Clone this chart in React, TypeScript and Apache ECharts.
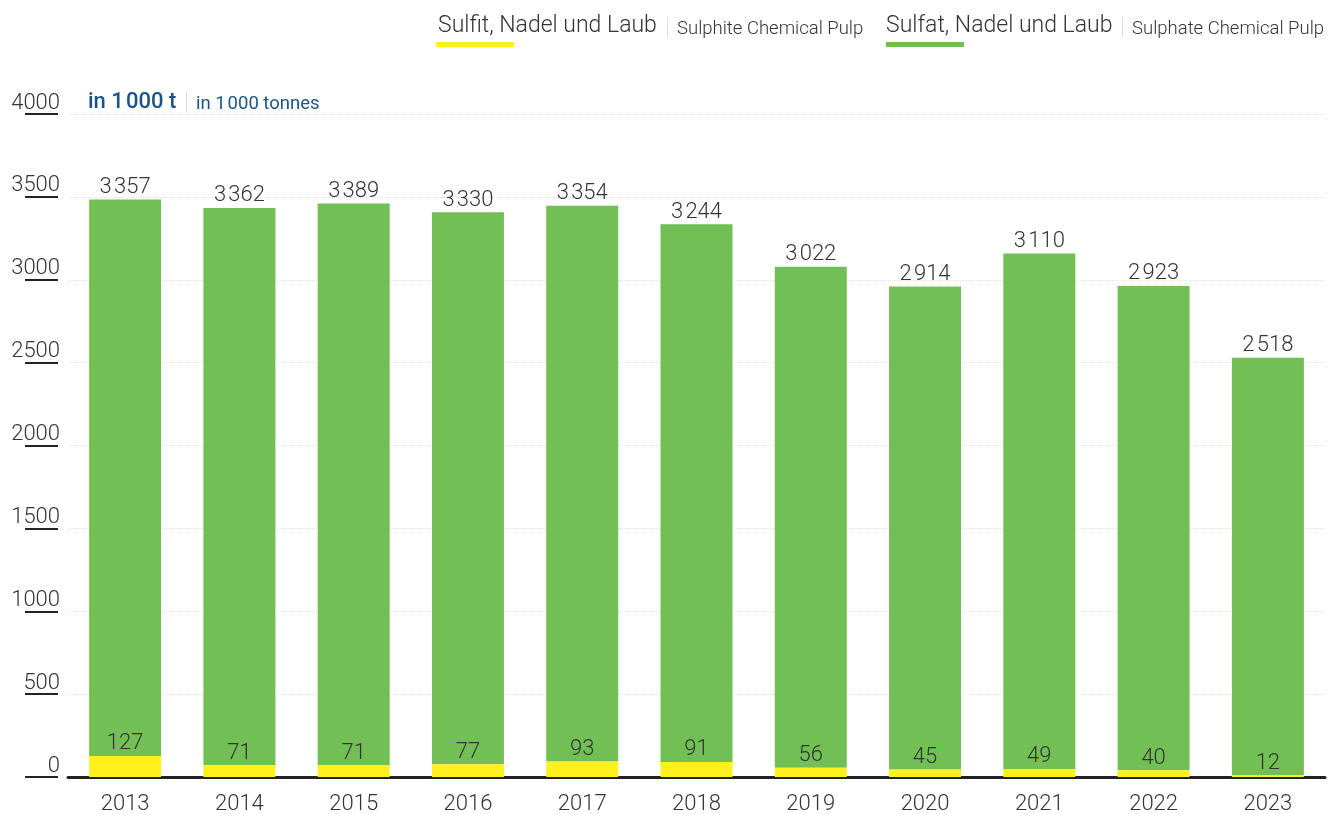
import React, { useEffect, useRef } from "react";
import * as echarts from "echarts";

const years = ["2013", "2014", "2015", "2016", "2017", "2018", "2019", "2020", "2021", "2022", "2023"];
const sulfit = [127, 71, 71, 77, 93, 91, 56, 45, 49, 40, 12];
const sulfat = [3357, 3362, 3389, 3330, 3354, 3244, 3022, 2914, 3110, 2923, 2518];

const YELLOW = "#fff01e";
const GREEN = "#71bf55";
const TEXT = "#333333";
const BLUE = "#1b5489";
const FONT = "Roboto, 'Noto Sans', sans-serif";
const GAP = "\u200A";

const fmt = (v: number) => {
  const s = String(v);
  return v >= 1000 ? s.slice(0, s.length - 3) + GAP + s.slice(-3) : s;
};

export default function App() {
  const ref = useRef<HTMLDivElement>(null);
  useEffect(() => {
    if (!ref.current) return;
    const chart = echarts.init(ref.current, null, { renderer: "svg" });
    const labelStyle = { fontFamily: FONT, fontSize: 22, fontWeight: 300, color: TEXT };
    chart.setOption({
      animation: false,
      textStyle: { fontFamily: FONT },
      grid: { left: 68, right: 5, top: 114, bottom: 37, containLabel: false },
      xAxis: {
        type: "category",
        data: years,
        axisLine: { show: true, lineStyle: { color: "#222", width: 3 } },
        axisTick: { show: false },
        axisLabel: { ...labelStyle, margin: 14 },
      },
      yAxis: {
        type: "value",
        min: 0,
        max: 4000,
        interval: 500,
        offset: 10,
        axisLine: { show: false },
        axisTick: { show: true, length: 33, lineStyle: { color: "#222", width: 2 } },
        axisLabel: {
          ...labelStyle,
          align: "right",
          verticalAlign: "bottom",
          lineHeight: 26,
          margin: -2,
          formatter: (v: number) => String(v),
        },
        splitLine: { show: true, lineStyle: { type: "dotted", color: "#e4e4da", width: 1 } },
      },
      series: [
        {
          name: "Sulfit, Nadel und Laub",
          type: "bar",
          stack: "total",
          data: sulfit,
          barWidth: 72,
          z: 3,
          itemStyle: { color: YELLOW },
          label: { show: true, position: "top", distance: 3, ...labelStyle, formatter: (p: any) => fmt(p.value) },
        },
        {
          name: "Sulfat, Nadel und Laub",
          type: "bar",
          stack: "total",
          data: sulfat,
          barWidth: 72,
          itemStyle: { color: GREEN },
          label: { show: true, position: "top", distance: 3, ...labelStyle, formatter: (p: any) => fmt(p.value) },
        },
      ],
      graphic: [
        { type: "text", left: 438, top: 13, style: { text: "Sulfit, Nadel und Laub", font: `300 23px ${FONT}`, fill: TEXT } },
        { type: "rect", shape: { x: 436, y: 42, width: 78, height: 5 }, style: { fill: YELLOW } },
        { type: "rect", shape: { x: 667, y: 17, width: 1, height: 20 }, style: { fill: "#dddddd" } },
        { type: "text", left: 677, top: 18, style: { text: "Sulphite Chemical Pulp", font: `300 18.5px ${FONT}`, fill: TEXT } },
        { type: "text", left: 886, top: 13, style: { text: "Sulfat, Nadel und Laub", font: `300 23px ${FONT}`, fill: TEXT } },
        { type: "rect", shape: { x: 886, y: 42, width: 78, height: 5 }, style: { fill: GREEN } },
        { type: "rect", shape: { x: 1122, y: 17, width: 1, height: 20 }, style: { fill: "#dddddd" } },
        { type: "text", left: 1132, top: 18, style: { text: "Sulphate Chemical Pulp", font: `300 18.5px ${FONT}`, fill: TEXT } },
        { type: "text", left: 88, top: 89, style: { text: "in 1" + GAP + "000 t", font: `500 22px ${FONT}`, fill: BLUE } },
        { type: "rect", shape: { x: 186, y: 92, width: 1, height: 20 }, style: { fill: "#dddddd" } },
        { type: "text", left: 196, top: 93, style: { text: "in 1" + GAP + "000 tonnes", font: `400 18.5px ${FONT}`, fill: BLUE } },
      ],
    });
    return () => chart.dispose();
  }, []);
  return <div ref={ref} style={{ position: "fixed", left: 0, top: 0, width: 1330, height: 814 }} />;
}
